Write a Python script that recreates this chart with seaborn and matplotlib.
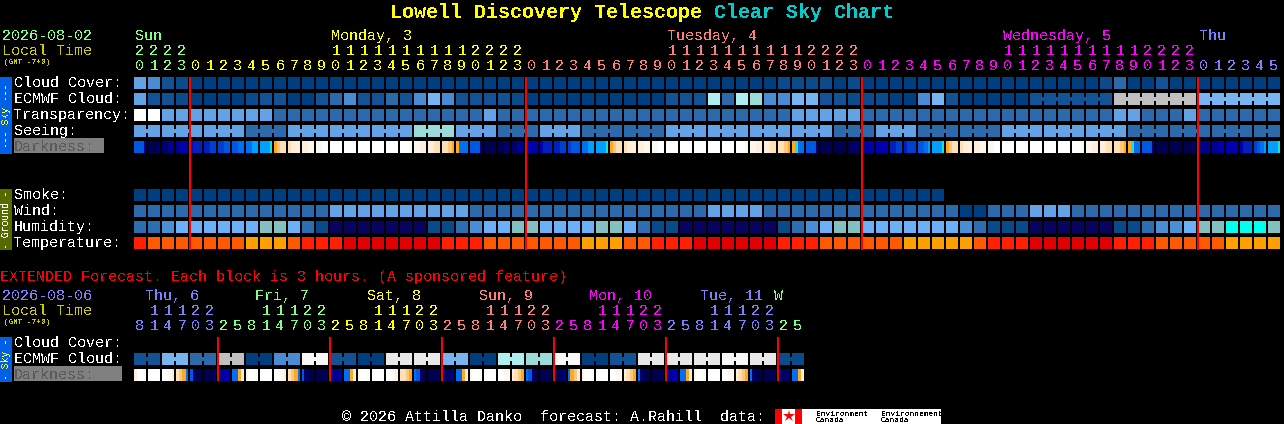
# -*- coding:utf-8 -*-
import numpy as np
import pandas as pd
import seaborn as sns
import matplotlib
matplotlib.use("Agg")
import matplotlib.pyplot as plt
from matplotlib.colors import ListedColormap
from matplotlib.patches import Rectangle

W, H = 1284, 424

# colour scales, index = value stored in the rows below
sky_colors = ["#003F7F", "#0B4A8B", "#135294", "#2C6AAC", "#4A8CD4", "#63A2E5", "#78B4F0",
              "#9ADAD8", "#AFEEEE", "#C0C0C0", "#E8E8E8", "#F8F8F8", "#FFFFFF"]
hum_colors = ["#08035F", "#0A4A8A", "#2C6EB0", "#4A8FD5", "#6CB0F8", "#84C0C0", "#00FFEE"]
temp_colors = ["#E00000", "#FF2000", "#FF5A00", "#FFA000"]
dark_colors = ["#00004E", "#000068", "#000090", "#0000B0", "#0020C0", "#0040D0", "#0058E0", "#0070F0",
               "#00A0FF", "#20E0D0", "#FFA820", "#FFC878", "#FFE0B4", "#FFEEDC", "#FFF6EC", "#FFFFFF"]

# main chart, 82 hourly blocks
cloud_cover = [5, 4, 2, 1, 0, 0, 0, 0, 0, 0, 0, 0, 0, 0, 0, 0, 0, 0, 0, 0, 0, 0, 0, 0, 0, 0, 0, 0,
               0, 0, 0, 0, 0, 0, 0, 0, 0, 0, 0, 0, 0, 0, 0, 0, 0, 0, 1, 1, 1, 1, 0, 1,
               0, 0, 0, 0, 0, 0, 0, 0, 0, 0, 0, 0, 0, 0, 0, 0, 0, 1, 3, 0, 0, 2, 0, 0, 0, 0, 0, 0, 0, 0]
ecmwf_cloud = [5, 2, 2, 1, 0, 0, 0, 0, 1, 2, 2, 0, 0, 2, 3, 4, 2, 2, 3, 2, 4, 6, 4, 2, 2, 2, 2, 1,
               0, 0, 0, 0, 0, 0, 0, 0, 0, 0, 2, 2, 2, 8, 3, 8, 7, 4, 4, 6, 6, 2, 2, 1,
               1, 1, 0, 0, 4, 6, 2, 0, 0, 0, 0, 0, 2, 2, 2, 2, 2, 2, 9, 9, 9, 9, 9, 9, 6, 6, 6, 6, 6, 6]
transparency = [12, 12, 5, 5, 5, 5, 5, 5, 5, 5, 3, 3, 3, 3, 3, 3, 3, 3, 3, 3, 3, 3, 3, 3, 3, 5, 3, 3,
                3, 3, 3, 3, 3, 3, 3, 3, 3, 3, 3, 3, 3, 3, 3, 3, 3, 3, 3, 5, 5, 5, 5, 5,
                3, 3, 3, 3, 3, 3, 3, 3, 3, 3, 3, 3, 3, 3, 3, 3, 3, 3, 5, 5, 3, 3, 3, 5, 3, 3, 3, 3, 3, 3]
seeing = [5, 5, 5, 5, 5, 5, 5, 5, 3, 3, 3, 5, 5, 5, 5, 5, 5, 5, 5, 5, 7, 7, 7, 5, 5, 5, 3, 3,
          3, 5, 5, 5, 3, 3, 3, 3, 3, 3, 5, 5, 5, 5, 5, 5, 5, 5, 5, 5, 5, 5, 3, 3,
          3, 5, 5, 5, 3, 3, 3, 3, 3, 3, 5, 5, 5, 5, 5, 5, 5, 5, 5, 3, 3, 3, 3, 3, 3, 3, 3, 3, 3, 3]
# four samples across each block
darkness = [
    # Sun
    6, 6, 6, 3, 0, 0, 0, 1, 1, 1, 2, 2, 2, 3, 3, 3,
    # Mon
    3, 4, 4, 4, 4, 4, 5, 5, 5, 5, 6, 6, 6, 6, 7, 7, 7, 7, 8, 8, 8, 8, 8, 9,
    10, 11, 12, 12, 12, 13, 13, 13, 13, 13, 14, 14, 14, 14, 15, 15,
    15, 15, 15, 15, 15, 15, 15, 15, 15, 15, 15, 15, 15, 15, 15, 15, 15, 15, 15, 15, 15, 15, 15, 14,
    14, 14, 13, 13, 13, 13, 12, 12, 12, 12, 11, 10, 10, 7, 7, 7, 6, 6, 6, 2, 0, 0, 0, 0, 0, 0, 1, 1, 1, 1, 2, 2,
    # Tue
    3, 3, 3, 3, 3, 4, 4, 4, 4, 4, 5, 5, 5, 6, 6, 6, 7, 7, 8, 8, 8, 8, 8, 9,
    10, 11, 12, 12, 12, 13, 13, 13, 13, 13, 14, 14, 14, 14, 15, 15,
    15, 15, 15, 15, 15, 15, 15, 15, 15, 15, 15, 15, 15, 15, 15, 15, 15, 15, 15, 15, 15, 15, 15, 14,
    14, 14, 13, 13, 13, 13, 12, 12, 12, 12, 11, 10, 10, 9, 7, 7, 6, 6, 6, 2, 0, 0, 0, 0, 0, 0, 0, 0, 0, 1, 1, 1,
    # Wed
    2, 2, 3, 3, 3, 3, 3, 3, 4, 4, 5, 5, 4, 5, 5, 5, 6, 6, 7, 8, 8, 8, 8, 9,
    10, 11, 12, 12, 12, 13, 13, 13, 13, 13, 14, 14, 14, 14, 15, 15,
    15, 15, 15, 15, 15, 15, 15, 15, 15, 15, 15, 15, 15, 15, 15, 15, 15, 15, 15, 15, 15, 15, 15, 14,
    14, 14, 13, 13, 13, 13, 12, 12, 12, 12, 11, 10, 10, 9, 7, 7, 6, 6, 6, 2, 0, 0, 0, 0, 0, 0, 0, 0, 0, 0, 0, 1,
    # Thu
    1, 2, 2, 2, 2, 2, 3, 3, 3, 3, 3, 3, 3, 4, 4, 4, 5, 6, 7, 8, 8, 8, 8, 9]
smoke = [0] * 58
wind = [3, 3, 3, 3, 3, 3, 3, 3, 3, 3, 3, 3, 3, 3, 5, 5, 5, 5, 5, 5, 5, 5, 5, 5, 3, 3, 3, 3,
        3, 3, 3, 3, 3, 3, 3, 3, 3, 3, 3, 3, 3, 5, 5, 5, 5, 3, 3, 3, 3, 3, 3, 3,
        3, 3, 3, 3, 3, 3, 3, 0, 0, 3, 3, 3, 5, 5, 5, 3, 3, 3, 3, 3, 3, 3, 3, 3, 3, 3, 3, 3, 3, 3]
humidity = [2, 2, 3, 4, 4, 4, 4, 4, 4, 5, 5, 4, 2, 1, 0, 0, 0, 0, 0, 0, 0, 1, 1, 2, 3, 4, 4, 5,
            5, 4, 4, 4, 4, 5, 5, 4, 2, 1, 1, 0, 0, 0, 0, 0, 0, 0, 1, 2, 3, 4, 5, 5,
            4, 4, 4, 4, 4, 4, 4, 3, 2, 1, 1, 1, 0, 0, 0, 0, 0, 0, 1, 1, 2, 3, 3, 4, 5, 5, 6, 6, 6, 5]
temperature = [1, 2, 2, 2, 2, 2, 2, 2, 3, 3, 3, 2, 1, 1, 1, 0, 0, 0, 0, 0, 0, 0, 1, 1, 1, 2, 2, 2,
               2, 2, 2, 2, 3, 3, 3, 2, 2, 1, 1, 1, 0, 0, 0, 0, 0, 0, 1, 1, 1, 2, 2, 2,
               2, 2, 2, 3, 3, 3, 3, 3, 2, 1, 1, 1, 0, 0, 0, 0, 0, 0, 1, 1, 1, 2, 2, 2, 2, 2, 3, 3, 3, 3]

# extended chart, 48 blocks of 3 hours
ext_cloud = [2, 2, 6, 6, 3, 3, 9, 9, 0, 0, 4, 4, 11, 11, 2, 2, 0, 0, 10, 10, 10, 10, 6, 6,
             0, 0, 8, 8, 7, 7, 11, 11, 0, 0, 2, 2, 10, 10, 10, 10, 10, 10, 11, 11, 10, 10, 1, 1]
ext_darkness = [
    13, 15, 15, 15, 15, 15, 15, 15, 15, 15, 14, 13, 12, 11, 10, 7, 6, 1, 0, 0, 0, 0, 0, 1, 2, 2, 3, 3, 7, 7, 10, 13,
    14, 15, 15, 15, 15, 15, 15, 15, 15, 15, 14, 13, 12, 11, 10, 7, 6, 1, 0, 0, 0, 0, 0, 0, 1, 2, 2, 3, 7, 7, 10, 13,
    14, 15, 15, 15, 15, 15, 15, 15, 15, 15, 14, 13, 12, 12, 11, 10, 7, 6, 1, 0, 0, 0, 0, 0, 0, 1, 1, 2, 7, 7, 10, 13,
    14, 15, 15, 15, 15, 15, 15, 15, 15, 15, 14, 14, 13, 12, 11, 10, 7, 6, 1, 0, 0, 0, 0, 0, 0, 0, 1, 2, 7, 10, 11, 13,
    14, 15, 15, 15, 15, 15, 15, 15, 15, 15, 14, 14, 13, 12, 11, 10, 7, 1, 0, 0, 0, 0, 0, 0, 1, 2, 3, 3, 7, 7, 10, 13,
    14, 15, 15, 15, 15, 15, 15, 15, 15, 15, 14, 14, 13, 12, 11, 10, 7, 1, 0, 0, 0, 0, 0, 0, 0, 1, 1, 1, 7, 7, 10, 13]

# blocks joined by a bridge: sizes of consecutive runs
seeing_runs = [2] + [3] * 26 + [2]
ecmwf_runs = [1] * 64 + [6, 6, 6]
ext_runs = [2] * 24

# header texts
hour_units = [0, 1, 2, 3] + (list(range(10)) * 2 + [0, 1, 2, 3]) * 3 + [0, 1, 2, 3, 4, 5]
hour_tens = ["2", "2", "2", "2"] + ([""] * 10 + ["1"] * 10 + ["2"] * 4) * 3 + [""] * 6
day_names = ["Sun", "Monday, 3", "Tuesday, 4", "Wednesday, 5", "Thu"]
day_blocks = [0, 14, 38, 62, 76]
day_colors = ["#80FF80", "#FFFF00", "#FF7F7F", "#FF00FF", "#8080FF"]
day_starts = [0, 4, 28, 52, 76]

ext_units = [8, 1, 4, 7, 0, 3, 2, 5] * 6
ext_tens = ["", "1", "1", "1", "2", "2", "", ""] * 6
ext_day_names = ["Thu, 6", "Fri, 7", "Sat, 8", "Sun, 9", "Mon, 10", "Tue, 11", "W"]
ext_day_x = [145, 255, 367, 479, 589, 700, 774]
ext_day_colors = ["#8080FF", "#80FF80", "#FFFF00", "#FF7F7F", "#FF00FF", "#8080FF", "#80FF80"]
ext_day_starts = [0, 6, 14, 22, 30, 38, 46]

midnights = [4, 28, 52, 76]
ext_midnights = [6, 14, 22, 30, 38, 46]

sns.set_theme(style="dark", rc={"figure.facecolor": "black", "axes.facecolor": "black",
                                "savefig.facecolor": "black", "text.antialiased": False})
plt.rcParams["font.family"] = ["Liberation Mono", "DejaVu Sans Mono"]

fig = plt.figure(figsize=(W / 100, H / 100), dpi=100)


def px_axes(x, y, w, h, z=1):
    ax = fig.add_axes([x / W, 1 - (y + h) / H, w / W, h / H], zorder=z)
    ax.set_axis_off()
    return ax


def gap(ax, x, y0, y1, width=2 / 14):
    ax.add_patch(Rectangle((x - width / 2, y0), width, y1 - y0, color="black", lw=0, antialiased=False))


def draw_row(values, colors, top, n=82, sub=1, runs=None):
    # blocks are 12px wide with a 2px gap, the axes starts half a gap before block 0
    vals = np.full(n * sub, np.nan)
    vals[:len(values)] = values
    frame = pd.DataFrame([vals])
    ax = px_axes(133, top, n * 14, 12)
    sns.heatmap(frame, ax=ax, cmap=ListedColormap(colors), vmin=-0.5, vmax=len(colors) - 0.5,
                cbar=False, xticklabels=False, yticklabels=False)
    ax.set_xlim(0, n * sub)
    ax.set_axis_off()
    ends = set(np.cumsum(runs).tolist()) if runs else set(range(n + 1))
    w = 2 / 14 * sub
    for e in range(n + 1):
        if e == 0 or e in ends:
            gap(ax, e * sub, 0, 1, w)
        else:
            # joined blocks keep a bridge through the middle of the row
            gap(ax, e * sub, 0, 4 / 12, w)
            gap(ax, e * sub, 8 / 12, 1, w)
    return ax


draw_row(cloud_cover, sky_colors, 77)
draw_row(ecmwf_cloud, sky_colors, 93, runs=ecmwf_runs)
draw_row(transparency, sky_colors, 109)
draw_row(seeing, sky_colors, 125, runs=seeing_runs)
draw_row(darkness, dark_colors, 141, sub=4)
draw_row(smoke, sky_colors, 189)
draw_row(wind, sky_colors, 205)
draw_row(humidity, hum_colors, 221)
draw_row(temperature, temp_colors, 237)
draw_row(ext_cloud, sky_colors, 353, n=48, runs=ext_runs)
draw_row(ext_darkness, dark_colors, 369, n=48, sub=4)

# overlay in pixel coordinates for the texts, tabs and red day lines
ov = px_axes(0, 0, W, H, z=5)
ov.set_xlim(0, W)
ov.set_ylim(H, 0)

LABEL = 10.8


def put(x, y, s, color="white", size=LABEL, **kw):
    ov.text(x, y, s, color=color, fontsize=size, va="baseline", **kw)


def block_x(i):
    return 134 + 14 * i


def digits(units, tens, starts, colors, y_tens, y_units):
    for i, (u, t) in enumerate(zip(units, tens)):
        c = colors[np.searchsorted(starts, i, side="right") - 1]
        put(block_x(i) + 6, y_units, str(u), c, ha="center")
        if t:
            put(block_x(i) + 6, y_tens, t, c, ha="center")


def red_lines(blocks, y0, y1):
    for b in blocks:
        ov.add_patch(Rectangle((block_x(b) - 1, y0), 2, y1 - y0, color="#FF0000", lw=0, antialiased=False))


# title
put(390, 18.5, "Lowell Discovery Telescope", "#FFFF00", 14.4, fontweight="bold")
put(714, 18.5, "Clear Sky Chart", "#00CCCC", 14.4, fontweight="bold")

# main header
put(2, 40, "2026-08-02", "#80FF80")
put(2, 55, "Local Time", "#CCCC00")
put(4, 64, "(GMT -7+0)", "#CCCC00", 5.5)
for name, b, c in zip(day_names, day_blocks, day_colors):
    put(block_x(b) + 1, 40, name, c)
digits(hour_units, hour_tens, day_starts, day_colors, 55, 70)

# row labels
for text, y in zip(["Cloud Cover:", "ECMWF Cloud:", "Transparency:", "Seeing:"], [87, 103, 119, 135]):
    put(14, y, text)
ov.add_patch(Rectangle((14, 138), 90, 15, color="#808080", lw=0))
put(14, 151, "Darkness:", "#5A5A5A")
for text, y in zip(["Smoke:", "Wind:", "Humidity:", "Temperature:"], [199, 215, 231, 247]):
    put(14, y, text)

# side tabs
ov.add_patch(Rectangle((0, 77), 12, 77, color="#0060E8", lw=0))
ov.text(6, 115.5, "--- Sky ---", color="#FFFF40", fontsize=7, rotation=90, ha="center", va="center")
ov.add_patch(Rectangle((0, 189), 12, 61, color="#556B00", lw=0))
ov.text(6, 219.5, "- Ground -", color="white", fontsize=7, rotation=90, ha="center", va="center")
ov.add_patch(Rectangle((0, 337), 12, 45, color="#0060E8", lw=0))
ov.text(6, 359, "- Sky -", color="#FFFF40", fontsize=7, rotation=90, ha="center", va="center")

# extended block
put(0, 281.5, "EXTENDED Forecast. Each block is 3 hours. (A sponsored feature)", "#FF0000")
put(2, 300, "2026-08-06", "#8080FF")
put(2, 315, "Local Time", "#CCCC00")
put(4, 324, "(GMT -7+0)", "#CCCC00", 5.5)
for name, x, c in zip(ext_day_names, ext_day_x, ext_day_colors):
    put(x, 300, name, c)
digits(ext_units, ext_tens, ext_day_starts, ext_day_colors, 315, 330)
put(14, 347, "Cloud Cover:")
put(14, 363, "ECMWF Cloud:")
ov.add_patch(Rectangle((14, 366), 108, 15, color="#808080", lw=0))
put(14, 379, "Darkness:", "#5A5A5A")

# red lines at midnight
red_lines(midnights, 77, 250)
red_lines(ext_midnights, 337, 381)

# footer
put(342, 421, "© 2026 Attilla Danko  forecast: A.Rahill  data:")
ov.add_patch(Rectangle((775, 409), 166, 15, color="white", lw=0))
ov.add_patch(Rectangle((775, 409), 7, 15, color="#FF0000", lw=0))
ov.add_patch(Rectangle((795, 409), 7, 15, color="#FF0000", lw=0))
ov.plot([788.5], [416], marker="*", ms=9, color="#FF0000", mew=0)
put(816, 415.5, "Environment", "black", 5.7)
put(816, 422.5, "Canada", "black", 5.7)
put(881, 415.5, "Environnement", "black", 5.7)
put(881, 422.5, "Canada", "black", 5.7)

fig.savefig("out.png", dpi=100)
